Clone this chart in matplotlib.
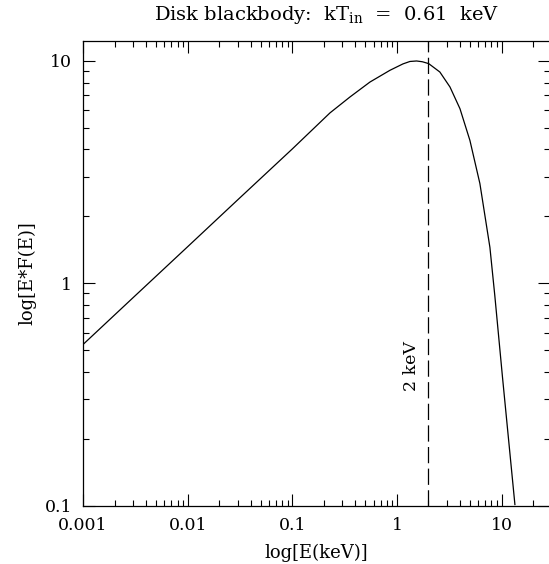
import matplotlib.pyplot as plt
import numpy as np

# values
energy = [0.001, 0.003, 0.01, 0.03, 0.1, 0.229, 0.356, 0.552, 0.857, 1.14, 1.33,
          1.54, 1.75, 2.01, 2.57, 3.21, 4.0, 4.98, 6.2, 7.73, 8.61, 10.2, 13.4]
eff = [0.53, 0.86, 1.46, 2.37, 4.02, 5.84, 6.89, 8.04, 9.08, 9.7, 9.95,
       10.0, 9.92, 9.73, 8.92, 7.64, 6.10, 4.39, 2.81, 1.45, 0.88, 0.377, 0.101]

xticks = [0.001, 0.01, 0.1, 1, 10]
xtick_labels = ['0.001', '0.01', '0.1', '1', '10']
yticks = [0.1, 1, 10]
ytick_labels = ['0.1', '1', '10']

e_line = 2.0

plt.rcParams['font.family'] = 'DejaVu Serif'
plt.rcParams['mathtext.fontset'] = 'dejavuserif'

fig = plt.figure(figsize=(5.49, 5.64), dpi=100)
ax = fig.add_axes([83 / 549, 58.5 / 564, 467 / 549, 464.5 / 564])

ax.plot(energy, eff, color='black', linewidth=0.9)
ax.axvline(e_line, color='black', linewidth=0.9, dashes=(13, 4.3))
ax.text(1.39, 0.426, '2 keV', rotation=90, ha='center', va='center', fontsize=12.5)

ax.set_xscale('log')
ax.set_yscale('log')
ax.set_xlim(0.001, 29)
ax.set_ylim(0.1, 12.3)

ax.set_xticks(xticks)
ax.set_xticklabels(xtick_labels)
ax.set_yticks(yticks)
ax.set_yticklabels(ytick_labels)
ax.tick_params(which='both', direction='in', top=True, right=True, width=0.8,
               labelsize=12.5)
ax.tick_params(which='major', length=8.6, pad=8)
ax.tick_params(which='minor', length=4.3)
for s in ax.spines.values():
    s.set_linewidth(0.9)

ax.set_xlabel('log[E(keV)]', fontsize=13, labelpad=7)
ax.set_ylabel('log[E*F(E)]', fontsize=13, labelpad=6)

fig.text(326 / 549, 1 - 15 / 564, r'Disk blackbody:  kT$_{\rm in}$  =  0.61  keV',
         ha='center', va='center', fontsize=14)

plt.savefig('out.png', dpi=100)
